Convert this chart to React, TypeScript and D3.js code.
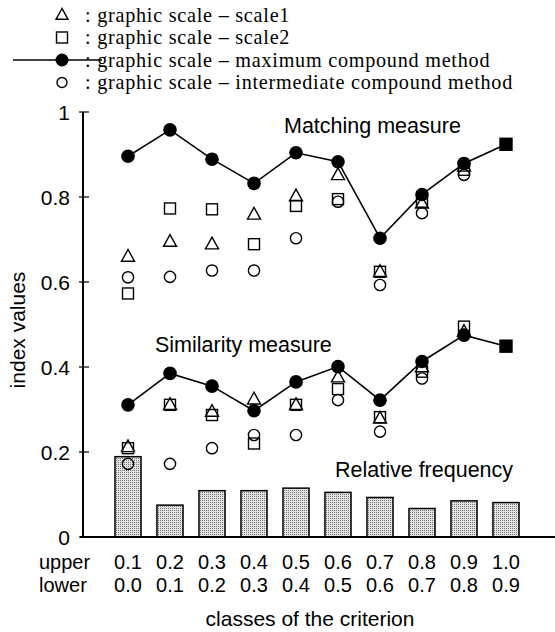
import React from "react";
import * as d3 from "d3";

const classesUpper = ["0.1", "0.2", "0.3", "0.4", "0.5", "0.6", "0.7", "0.8", "0.9", "1.0"];
const classesLower = ["0.0", "0.1", "0.2", "0.3", "0.4", "0.5", "0.6", "0.7", "0.8", "0.9"];

// Matching measure
const matchMax = [0.896, 0.958, 0.889, 0.832, 0.904, 0.883, 0.703, 0.806, 0.879, 0.924];
const matchScale1 = [0.66, 0.695, 0.689, 0.759, 0.802, 0.852, 0.624, 0.785, 0.872, 0.924];
const matchScale2 = [0.573, 0.773, 0.771, 0.689, 0.779, 0.795, 0.624, 0.789, 0.864, 0.924];
const matchInter = [0.611, 0.612, 0.627, 0.627, 0.703, 0.789, 0.593, 0.762, 0.852, 0.924];

// Similarity measure
const simMax = [0.311, 0.385, 0.355, 0.297, 0.365, 0.401, 0.322, 0.413, 0.475, 0.449];
const simScale1 = [0.212, 0.311, 0.295, 0.324, 0.311, 0.376, 0.279, 0.4, 0.483, 0.449];
const simScale2 = [0.209, 0.311, 0.287, 0.22, 0.311, 0.348, 0.282, 0.389, 0.495, 0.449];
const simInter = [0.172, 0.172, 0.209, 0.24, 0.24, 0.322, 0.248, 0.373, 0.475, 0.449];

// Relative frequency
const relFreq = [0.189, 0.075, 0.109, 0.109, 0.115, 0.105, 0.093, 0.067, 0.085, 0.081];

const yTicks = [0, 0.2, 0.4, 0.6, 0.8, 1];
const yTickLabels = ["0", "0.2", "0.4", "0.6", "0.8", "1"];

const legendLabels = [
  ": graphic scale \u2013 scale1",
  ": graphic scale \u2013 scale2",
  ": graphic scale \u2013 maximum compound method",
  ": graphic scale \u2013 intermediate compound method",
];

const SANS = "'Liberation Sans', Arial, Helvetica, sans-serif";
const SERIF = "'Liberation Serif', 'Times New Roman', serif";

function Triangle({ x, y, s = 6.5 }: { x: number; y: number; s?: number }) {
  const h = s * 1.8;
  const pts = [
    [x, y - h * 0.6],
    [x - s, y + h * 0.4],
    [x + s, y + h * 0.4],
  ];
  return <polygon points={pts.map((p) => p.join(",")).join(" ")} fill="none" stroke="#000" strokeWidth={1.4} />;
}
function Square({ x, y, s = 5.5, filled = false }: { x: number; y: number; s?: number; filled?: boolean }) {
  return <rect x={x - s} y={y - s} width={2 * s} height={2 * s} fill={filled ? "#000" : "none"} stroke="#000" strokeWidth={1.4} />;
}
function OCircle({ x, y, r = 5.6 }: { x: number; y: number; r?: number }) {
  return <circle cx={x} cy={y} r={r} fill="none" stroke="#000" strokeWidth={1.4} />;
}
function Dot({ x, y, r = 6.8 }: { x: number; y: number; r?: number }) {
  return <circle cx={x} cy={y} r={r} fill="#000" />;
}

export default function App() {
  const W = 555, H = 632;
  const x = d3.scaleBand<string>().domain(classesUpper).range([107, 527]).paddingInner(0.38).paddingOuter(0.19);
  const y = d3.scaleLinear().domain([0, 1]).range([537, 112]);
  const cx = (i: number) => (x(classesUpper[i]) as number) + x.bandwidth() / 2;
  const line = d3.line<number>().x((_, i) => cx(i)).y((d) => y(d));

  const renderGroup = (mx: number[], s1: number[], s2: number[], it: number[], key: string) => (
    <g key={key}>
      {it.map((v, i) => (i < 9 ? <OCircle key={"c" + i} x={cx(i)} y={y(v)} /> : null))}
      {s2.map((v, i) => (i < 9 ? <Square key={"s" + i} x={cx(i)} y={y(v)} /> : null))}
      {s1.map((v, i) => (i < 9 ? <Triangle key={"t" + i} x={cx(i)} y={y(v)} /> : null))}
      <path d={line(mx) || ""} fill="none" stroke="#000" strokeWidth={1.6} />
      {mx.map((v, i) => (i < 9 ? <Dot key={"d" + i} x={cx(i)} y={y(v)} /> : null))}
      <Square x={cx(9)} y={y(mx[9])} s={6} filled />
    </g>
  );

  const legendY = (i: number) => 15 + i * 22.5;

  return (
    <svg width={W} height={H} style={{ position: "absolute", left: 0, top: 0, background: "#fff" }}>
      <defs>
        <pattern id="stipple" width={2} height={2} patternUnits="userSpaceOnUse">
          <rect width={2} height={2} fill="#e2e2e2" />
          <rect width={1} height={1} fill="#7a7a7a" />
        </pattern>
      </defs>
      <rect width={W} height={H} fill="#fff" />
      {/* legend */}
      <g fontFamily={SERIF} fontSize={20.2} letterSpacing={0.75}>
        <Triangle x={62} y={legendY(0)} s={6} />
        <Square x={62} y={legendY(1)} s={5.5} />
        <line x1={13} x2={102} y1={legendY(2)} y2={legendY(2)} stroke="#000" strokeWidth={1.4} />
        <Dot x={62} y={legendY(2)} r={6.5} />
        <OCircle x={62} y={legendY(3)} r={5} />
        {legendLabels.map((t, i) => (
          <text key={i} x={85} y={legendY(i) + 6.5}>{t}</text>
        ))}
      </g>

      {/* bars */}
      {relFreq.map((v, i) => (
        <rect key={i} x={x(classesUpper[i])} y={y(v)} width={x.bandwidth()} height={y(0) - y(v)} fill="url(#stipple)" stroke="#000" strokeWidth={1.5} />
      ))}

      {/* axes */}
      <line x1={83} x2={83} y1={112} y2={537} stroke="#000" strokeWidth={2} />
      <line x1={80} x2={555} y1={537} y2={537} stroke="#000" strokeWidth={2} />
      {yTicks.map((t, i) => (
        <g key={i}>
          <line x1={79} x2={89} y1={y(t)} y2={y(t)} stroke="#000" strokeWidth={1.2} />
          <text x={70} y={y(t) + 7.5} textAnchor="end" fontFamily={SANS} fontSize={21}>{yTickLabels[i]}</text>
        </g>
      ))}

      {renderGroup(matchMax, matchScale1, matchScale2, matchInter, "m")}
      {renderGroup(simMax, simScale1, simScale2, simInter, "s")}

      <g fontFamily={SANS} fontSize={21.5}>
        <text x={284} y={133}>Matching measure</text>
        <text x={155} y={352}>Similarity measure</text>
        <text x={335} y={477}>Relative frequency</text>
      </g>

      <g fontFamily={SANS} fontSize={20}>
        <text x={39} y={569}>upper</text>
        <text x={39} y={592}>lower</text>
        {classesUpper.map((c, i) => (
          <text key={"u" + i} x={cx(i)} y={569} textAnchor="middle">{c}</text>
        ))}
        {classesLower.map((c, i) => (
          <text key={"l" + i} x={cx(i)} y={592} textAnchor="middle">{c}</text>
        ))}
        <text x={310} y={626} textAnchor="middle" fontSize={21}>classes of the criterion</text>
      </g>

      <text transform="translate(25,330) rotate(-90)" textAnchor="middle" fontFamily={SANS} fontSize={21}>index values</text>
    </svg>
  );
}
